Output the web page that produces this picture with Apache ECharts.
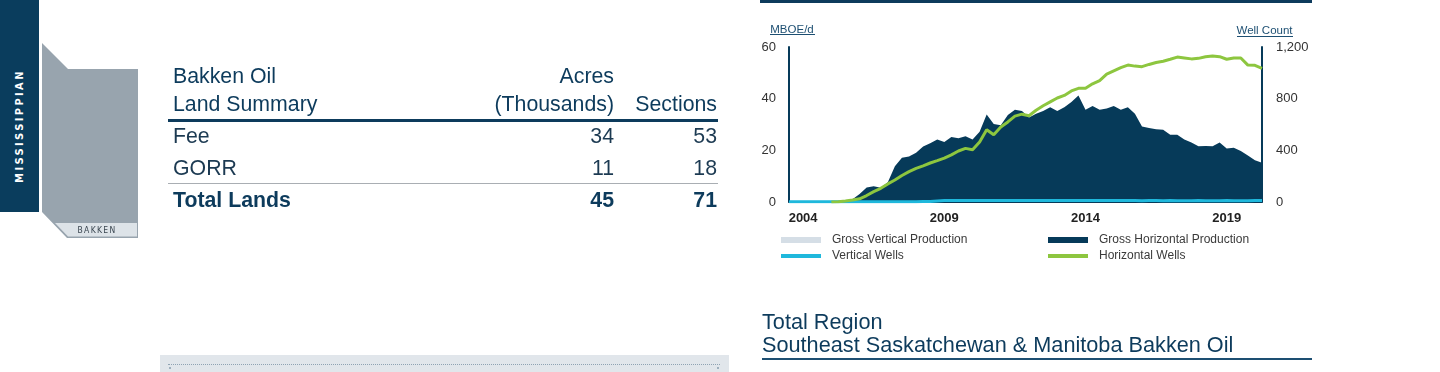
<!DOCTYPE html>
<html>
<head>
<meta charset="utf-8">
<script src="https://cdn.jsdelivr.net/npm/echarts@6.0.0/dist/echarts.min.js"></script>
<style>
  html, body { margin: 0; padding: 0; background: #fff; width: 1440px; height: 372px; overflow: hidden; font-family: "Liberation Sans", Arial, sans-serif; }
  #chart { position: absolute; left: 0; top: 0; width: 1440px; height: 372px; z-index: 1; }
  .ov { position: absolute; z-index: 2; }
  .navybar { left: 0; top: 0; width: 39px; height: 212px; background: #0a3d5d; }
  .vtext { left: -55px; top: 119px; width: 150px; height: 14px; line-height: 14px; text-align: center; color: #fff;
           font-family: "Liberation Sans Narrow", "DejaVu Sans Condensed", sans-serif; font-weight: bold; font-size: 11px;
           letter-spacing: 2.4px; transform: rotate(-90deg); }
  .bk { left: 58px; top: 224px; width: 74px; height: 12px; line-height: 12px; text-align: center; color: #3a4650;
        font-family: "Liberation Sans Narrow", "DejaVu Sans Condensed", sans-serif; font-size: 8.5px; letter-spacing: 1.3px; padding-left: 4px; box-sizing: border-box; }
  .t { font-size: 21.3px; color: #0d3b5c; white-space: nowrap; line-height: 24px; }
  .r { text-align: right; }
  .row { color: #1c3a52; }
  .b { font-weight: bold; color: #0d3b5c; }
  .rule1 { left: 168px; top: 119px; width: 550px; height: 3px; background: #0d3b5c; }
  .rule2 { left: 168px; top: 183px; width: 550px; height: 1px; background: #a9aeb3; }
  .topline { left: 760px; top: 0px; width: 552px; height: 3px; background: #0d3b5c; }
  .title { left: 762px; font-size: 21.7px; color: #0d3b5c; white-space: nowrap; line-height: 24px; }
  .uline { left: 762px; top: 358px; width: 550px; height: 2px; background: #1d4f72; }
  .dotbar { left: 160px; top: 355px; width: 569px; height: 17px; background: #e1e6eb; }
  .dots { left: 168px; top: 364px; width: 552px; height: 0; border-top: 1px dotted #8fa3b3; }
  .dot { width: 2px; height: 2px; background: #9fb0be; top: 367px; }
</style>
</head>
<body>
<div id="chart"></div>

<!-- left decorative panel -->
<div class="ov navybar"></div>
<div class="ov vtext">MISSISSIPPIAN</div>
<svg class="ov" style="left:0;top:0" width="160" height="250">
  <polygon points="42,43 68,69 138,69 138,238 67,238 42,212" fill="#98a4ae"/>
  <polygon points="55,223 137,223 137,236.5 68,236.5" fill="#dde3e8"/>
</svg>
<div class="ov bk">BAKKEN</div>

<!-- land summary table -->
<div class="ov t" style="left:173px;top:64px;">Bakken Oil</div>
<div class="ov t" style="left:173px;top:92px;">Land Summary</div>
<div class="ov t r" style="left:414px;top:64px;width:200px;">Acres</div>
<div class="ov t r" style="left:414px;top:92px;width:200px;">(Thousands)</div>
<div class="ov t r" style="left:617px;top:92px;width:100px;">Sections</div>
<div class="ov rule1"></div>
<div class="ov t row" style="left:173px;top:124px;">Fee</div>
<div class="ov t row r" style="left:414px;top:124px;width:200px;">34</div>
<div class="ov t row r" style="left:617px;top:124px;width:100px;">53</div>
<div class="ov t row" style="left:173px;top:156px;">GORR</div>
<div class="ov t row r" style="left:414px;top:156px;width:200px;">11</div>
<div class="ov t row r" style="left:617px;top:156px;width:100px;">18</div>
<div class="ov rule2"></div>
<div class="ov t b" style="left:173px;top:188px;">Total Lands</div>
<div class="ov t b r" style="left:414px;top:188px;width:200px;">45</div>
<div class="ov t b r" style="left:617px;top:188px;width:100px;">71</div>
<div class="ov dotbar"></div>
<div class="ov dots"></div>
<div class="ov dot" style="left:169px;"></div>
<div class="ov dot" style="left:717px;"></div>

<!-- right titles -->
<div class="ov topline"></div>
<div class="ov title" style="top:310px;">Total Region</div>
<div class="ov title" style="top:333px;">Southeast Saskatchewan &amp; Manitoba Bakken Oil</div>
<div class="ov uline"></div>

<script>
// Quarterly categories
const categories = [
  '2003Q3','2003Q4',
  '2004Q1','2004Q2','2004Q3','2004Q4','2005Q1','2005Q2','2005Q3','2005Q4',
  '2006Q1','2006Q2','2006Q3','2006Q4','2007Q1','2007Q2','2007Q3','2007Q4',
  '2008Q1','2008Q2','2008Q3','2008Q4','2009Q1','2009Q2','2009Q3','2009Q4',
  '2010Q1','2010Q2','2010Q3','2010Q4','2011Q1','2011Q2','2011Q3','2011Q4',
  '2012Q1','2012Q2','2012Q3','2012Q4','2013Q1','2013Q2','2013Q3','2013Q4',
  '2014Q1','2014Q2','2014Q3','2014Q4','2015Q1','2015Q2','2015Q3','2015Q4',
  '2016Q1','2016Q2','2016Q3','2016Q4','2017Q1','2017Q2','2017Q3','2017Q4',
  '2018Q1','2018Q2','2018Q3','2018Q4','2019Q1','2019Q2','2019Q3','2019Q4',
  '2020Q1','2020Q2'
];
const yearTickLabels = ['2004', '2009', '2014', '2019'];

// MBOE/d
const grossVerticalProduction = [
  0.1,0.1,0.1,0.1,0.1,0.1,0.1,0.1,0.1,0.1,0.1,0.1,0.1,0.1,0.1,0.1,0.1,0.1,0.1,0.1,
  0.2,0.2,0.2,0.2,0.2,0.2,0.2,0.2,0.2,0.2,0.2,0.2,0.2,0.2,0.2,0.2,0.2,0.2,0.2,0.2,
  0.2,0.2,0.2,0.2,0.2,0.2,0.2,0.2,0.2,0.2,0.2,0.2,0.2,0.2,0.2,0.2,0.2,0.2,0.2,0.2,
  0.2,0.2,0.2,0.2,0.2,0.2,0.2,0.2
];
const grossHorizontalProduction = [
  0,0,0,0,0,0,0,0,0.3,1,
  3,5.5,6,5.4,7.5,13.7,17,17.5,19,21.4,
  22.5,24,23,25,24.5,25.3,24,27,33.7,30,
  29.5,33.5,35.5,35,32.5,34,35,36.5,35,36.5,
  38.5,41,35.5,37,35.5,36,37,35.5,36.5,34,
  29,28.4,28,27.8,25.8,25.8,24,22.8,21.4,21.5,
  21.4,22.8,20.5,20.8,19.5,17.8,16,15
];
// Well count
const verticalWells = [
  2,2,2,2,2,2,2,2,2,2,2,2,2,2,2,2,2,2,2,3,
  4,8,11,11,12,11,12,12,11,12,12,12,12,11,12,12,12,12,11,12,
  12,11,11,11,12,11,11,11,11,11,10,11,11,10,11,10,10,10,11,10,
  10,10,11,10,10,10,11,12
];
const horizontalWells = [
  null,null,null,null,null,null,0,2,8,15,
  25,50,80,106,140,170,205,235,260,280,
  302,320,340,365,395,415,405,465,560,520,
  580,620,665,680,668,710,745,775,805,825,
  860,880,880,915,940,990,1015,1040,1060,1052,
  1048,1065,1080,1090,1105,1122,1115,1108,1112,1125,
  1130,1125,1105,1115,1115,1060,1058,1035
];

const NAVY = '#063a59';
const font = '"Liberation Sans", Arial, sans-serif';
const chart = echarts.init(document.getElementById('chart'), null, { renderer: 'canvas' });

function legendAt(name, left, top, h) {
  return {
    data: [name], left: left, top: top, padding: 0, itemWidth: 40, itemHeight: h, icon: 'rect',
    selectedMode: false,
    textStyle: { fontFamily: font, fontSize: 12, color: '#3a3a3a', padding: [0, 0, 0, 6] }
  };
}

chart.setOption({
  animation: false,
  textStyle: { fontFamily: font },
  grid: { left: 789, right: 178, top: 47, height: 155, containLabel: false },
  legend: [
    legendAt('Gross Vertical Production', 781, 234, 6),
    legendAt('Gross Horizontal Production', 1048, 234, 6),
    legendAt('Vertical Wells', 781, 250, 4),
    legendAt('Horizontal Wells', 1048, 250, 4)
  ],
  xAxis: {
    type: 'category', data: categories, boundaryGap: false,
    axisLine: { show: true, lineStyle: { color: NAVY, width: 1 } },
    axisTick: { show: false },
    axisLabel: {
      interval: function (idx, val) { return val.slice(4) === 'Q1' && yearTickLabels.indexOf(val.slice(0, 4)) >= 0; },
      formatter: function (val) { return val.slice(0, 4); },
      fontSize: 13, fontWeight: 'bold', color: '#222', margin: 10, fontFamily: font
    },
    splitLine: { show: false }
  },
  yAxis: [
    {
      type: 'value', min: 0, max: 60, interval: 20, position: 'left',
      name: 'MBOE/d', nameLocation: 'end', nameGap: 11,
      nameTextStyle: { fontSize: 11.5, color: '#1d4f72', fontFamily: font, align: 'center', padding: [0, 0, 0, 6] },
      axisLine: { show: true, lineStyle: { color: NAVY, width: 2 } },
      axisTick: { show: false },
      axisLabel: { fontSize: 13, color: '#333', margin: 13, fontFamily: font },
      splitLine: { show: false }
    },
    {
      type: 'value', min: 0, max: 1200, interval: 400, position: 'right',
      name: 'Well Count', nameLocation: 'end', nameGap: 10,
      nameTextStyle: { fontSize: 11.5, color: '#1d4f72', fontFamily: font, align: 'center', padding: [0, 0, 0, 5] },
      axisLine: { show: true, lineStyle: { color: NAVY, width: 2 } },
      axisTick: { show: false },
      axisLabel: {
        fontSize: 13, color: '#333', margin: 14, fontFamily: font,
        formatter: function (v) { return v.toLocaleString('en-US'); }
      },
      splitLine: { show: false }
    }
  ],
  graphic: [
    { type: 'rect', shape: { x: 770, y: 34, width: 45, height: 1 }, style: { fill: '#1d4f72' }, silent: true },
    { type: 'rect', shape: { x: 1237, y: 36, width: 56, height: 1 }, style: { fill: '#1d4f72' }, silent: true }
  ],
  series: [
    {
      name: 'Gross Vertical Production', type: 'line', yAxisIndex: 0, stack: 'prod',
      data: grossVerticalProduction, symbol: 'none', color: '#d5dee6',
      lineStyle: { width: 0 }, areaStyle: { color: '#d5dee6', opacity: 1 }, z: 1
    },
    {
      name: 'Gross Horizontal Production', type: 'line', yAxisIndex: 0, stack: 'prod',
      data: grossHorizontalProduction, symbol: 'none', color: NAVY,
      lineStyle: { width: 0 }, areaStyle: { color: NAVY, opacity: 1 }, z: 2
    },
    {
      name: 'Vertical Wells', type: 'line', yAxisIndex: 1,
      data: verticalWells, symbol: 'none', color: '#1fb8dc',
      lineStyle: { width: 3, color: '#1fb8dc' }, z: 3
    },
    {
      name: 'Horizontal Wells', type: 'line', yAxisIndex: 1,
      data: horizontalWells, symbol: 'none', color: '#8dc63f',
      lineStyle: { width: 3, color: '#8dc63f' }, z: 4
    }
  ]
});
</script>
</body>
</html>
